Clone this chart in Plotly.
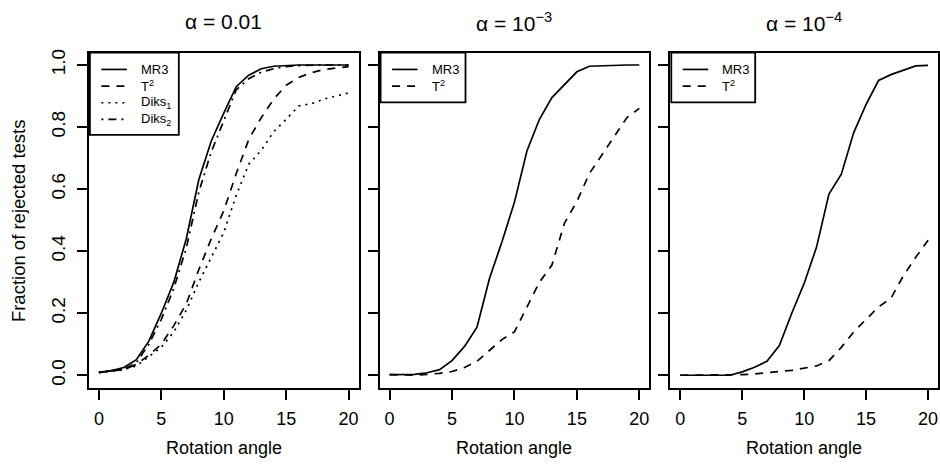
import plotly.graph_objects as go

# ---------------- data ----------------
angles = list(range(21))

# alpha = 0.01
mr3_a = [0.008, 0.015, 0.025, 0.05, 0.11, 0.20, 0.30, 0.44, 0.63, 0.755, 0.845,
         0.93, 0.967, 0.988, 0.996, 0.999, 1.0, 1.0, 1.0, 1.0, 1.0]
t2_a = [0.01, 0.013, 0.018, 0.035, 0.065, 0.10, 0.16, 0.23, 0.34, 0.44, 0.53,
        0.65, 0.76, 0.83, 0.89, 0.935, 0.96, 0.975, 0.985, 0.99, 0.995]
diks1_a = [0.008, 0.012, 0.018, 0.03, 0.06, 0.09, 0.14, 0.21, 0.30, 0.38, 0.46,
           0.58, 0.68, 0.725, 0.785, 0.825, 0.868, 0.875, 0.89, 0.90, 0.91]
diks2_a = [0.01, 0.014, 0.02, 0.04, 0.10, 0.18, 0.28, 0.41, 0.59, 0.72, 0.82,
           0.92, 0.956, 0.977, 0.988, 0.995, 0.998, 1.0, 1.0, 1.0, 1.0]

# alpha = 1e-3
mr3_b = [0.002, 0.002, 0.003, 0.008, 0.018, 0.047, 0.093, 0.155, 0.312, 0.43, 0.558,
         0.723, 0.825, 0.895, 0.937, 0.978, 0.996, 0.998, 0.999, 1.0, 1.0]
t2_b = [0.002, 0.001, 0.0, 0.003, 0.006, 0.012, 0.025, 0.045, 0.08, 0.115, 0.14,
        0.22, 0.30, 0.355, 0.49, 0.56, 0.65, 0.71, 0.77, 0.83, 0.86]

# alpha = 1e-4
mr3_c = [0.0, 0.0, 0.0, 0.002, 0.0, 0.011, 0.026, 0.045, 0.096, 0.20, 0.296,
         0.413, 0.584, 0.648, 0.782, 0.873, 0.95, 0.969, 0.983, 0.997, 0.999]
t2_c = [0.0, 0.0, 0.0, 0.0, 0.0, 0.002, 0.004, 0.007, 0.012, 0.016, 0.022,
        0.03, 0.047, 0.09, 0.14, 0.18, 0.22, 0.248, 0.32, 0.38, 0.435]

panel_titles = ["α = 0.01", "α = 10<sup>−3</sup>", "α = 10<sup>−4</sup>"]
x_ticks = [0, 5, 10, 15, 20]
y_ticks = [0.0, 0.2, 0.4, 0.6, 0.8, 1.0]
y_ticktext = ["0.0", "0.2", "0.4", "0.6", "0.8", "1.0"]
x_title = "Rotation angle"
y_title = "Fraction of rejected tests"

# ---------------- styling ----------------
W, H = 940, 464
FONT = "Liberation Sans, Arial, Helvetica, sans-serif"
LW = 1.7
DASHES = {
    "solid": "solid",
    "dashed": "8px,7px",
    "dotted": "2px,5px",
    "dotdash": "2px,5px,8px,5px",
}


def px(x):
    return x / W


def py(y):
    return 1 - y / H


panels = [
    {"x": (89, 359), "series": [("MR3", mr3_a, "solid"), ("T<sup>2</sup>", t2_a, "dashed"),
                                ("Diks<sub>1</sub>", diks1_a, "dotted"),
                                ("Diks<sub>2</sub>", diks2_a, "dotdash")],
     "legend_right": 179},
    {"x": (380, 650), "series": [("MR3", mr3_b, "solid"), ("T<sup>2</sup>", t2_b, "dashed")],
     "legend_right": 466},
    {"x": (671, 939), "series": [("MR3", mr3_c, "solid"), ("T<sup>2</sup>", t2_c, "dashed")],
     "legend_right": 756},
]

fig = go.Figure()
shapes = []
annotations = []

for i, p in enumerate(panels):
    k = "" if i == 0 else str(i + 1)
    for name, vals, sty in p["series"]:
        fig.add_trace(go.Scatter(
            x=angles, y=vals, mode="lines", name=name, showlegend=False,
            line=dict(color="black", width=LW, dash=DASHES[sty]),
            xaxis="x" + k, yaxis="y" + k, hoverinfo="skip"))

    x0, x1 = p["x"]
    fig.layout["xaxis" + k] = dict(
        domain=[px(x0), px(x1)], range=[-0.8, 20.8], anchor="y" + k,
        tickvals=x_ticks, ticks="outside", ticklen=10, tickwidth=1.8,
        tickcolor="black", showline=True, linewidth=1.8, linecolor="black",
        mirror=True, showgrid=False, zeroline=False,
        tickfont=dict(family=FONT, size=18, color="black"),
        ticklabelstandoff=4, fixedrange=True)
    fig.layout["yaxis" + k] = dict(
        domain=[py(387), py(49)], range=[-0.04, 1.04], anchor="x" + k,
        tickvals=y_ticks, ticktext=y_ticktext, ticks="outside", ticklen=10,
        tickwidth=1.8, tickcolor="black", showline=True, linewidth=1.8,
        linecolor="black", mirror=True, showgrid=False, zeroline=False,
        showticklabels=(i == 0), tickangle=-90,
        tickfont=dict(family=FONT, size=19, color="black"),
        ticklabelstandoff=4, fixedrange=True)

    cx = (x0 + x1) / 2
    annotations.append(dict(text=panel_titles[i], x=px(cx), y=py(18), xref="paper",
                            yref="paper", showarrow=False, xanchor="center",
                            yanchor="middle", font=dict(family=FONT, size=21, color="black")))
    annotations.append(dict(text=x_title, x=px(cx), y=py(448), xref="paper",
                            yref="paper", showarrow=False, xanchor="center",
                            yanchor="middle", font=dict(family=FONT, size=18, color="black")))

    # legend box
    lx0 = x0 + 1
    lx1 = p["legend_right"]
    n = len(p["series"])
    ly0 = 49
    ly1 = 49 + 17 + 16.7 * n - (1 if n == 4 else 0)
    ly1 = 132 if n == 4 else 99.3
    shapes.append(dict(type="rect", xref="paper", yref="paper",
                       x0=px(lx0), x1=px(lx1), y0=py(ly0), y1=py(ly1),
                       line=dict(color="black", width=1.8), fillcolor="white", layer="above"))
    for j, (name, vals, sty) in enumerate(p["series"]):
        yy = 66 + 16.8 * j
        shapes.append(dict(type="line", xref="paper", yref="paper",
                           x0=px(x0 + 12.5), x1=px(x0 + 38), y0=py(yy), y1=py(yy),
                           line=dict(color="black", width=LW, dash=DASHES[sty]),
                           layer="above"))
        annotations.append(dict(text=name, x=px(x0 + 50), y=py(yy), xref="paper",
                                yref="paper", showarrow=False, xanchor="left",
                                yanchor="middle",
                                font=dict(family=FONT, size=13, color="black")))

annotations.append(dict(text=y_title, x=px(18), y=py(218), xref="paper", yref="paper",
                        showarrow=False, textangle=-90, xanchor="center", yanchor="middle",
                        font=dict(family=FONT, size=18.5, color="black")))

fig.update_layout(
    width=W, height=H, margin=dict(l=0, r=0, t=0, b=0),
    paper_bgcolor="white", plot_bgcolor="white",
    shapes=shapes, annotations=annotations, showlegend=False)

fig.write_html("out.html", config={"displayModeBar": False})
